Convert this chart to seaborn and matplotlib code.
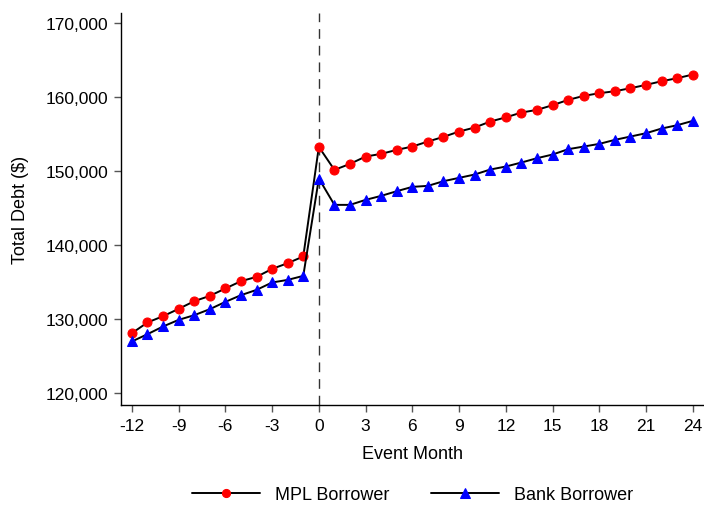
import numpy as np
import pandas as pd
import matplotlib
matplotlib.use("Agg")
import matplotlib.pyplot as plt
import seaborn as sns
from matplotlib.ticker import FuncFormatter

months = list(range(-12, 25))
mpl_debt = [128108, 129554, 130405, 131392, 132433, 133149, 134149, 135135, 135717,
            136798, 137568, 138474,
            153285, 150176, 150991, 151982, 152342, 152882, 153333, 154011, 154641,
            155362, 155902, 156713, 157275, 157928, 158288, 158920, 159640, 160180,
            160541, 160811, 161217, 161667, 162163, 162569, 163064]
bank_debt = [126987, 127973, 129014, 129906, 130541, 131352, 132338, 133244, 133960,
             134960, 135311, 135852,
             149009, 145450, 145450, 146126, 146666, 147298, 147883, 148018, 148650,
             149100, 149551, 150226, 150632, 151172, 151758, 152253, 152974, 153333,
             153694, 154235, 154685, 155136, 155767, 156218, 156803]
series_names = ["MPL Borrower", "Bank Borrower"]
x_ticks = list(range(-12, 25, 3))
y_ticks = [120000, 130000, 140000, 150000, 160000, 170000]

sns.set_theme(style="white")
plt.rcParams['font.family'] = ['Liberation Sans', 'DejaVu Sans']
plt.rcParams['text.color'] = 'black'
plt.rcParams['axes.labelcolor'] = 'black'

df_mpl = pd.DataFrame({"month": months, "debt": mpl_debt})
df_bank = pd.DataFrame({"month": months, "debt": bank_debt})

fig = plt.figure(figsize=(7.04, 5.06), dpi=100)
ax = fig.add_axes([0.1714, 0.1976, 0.8286, 0.775])

ax.axvline(0, color="#333333", lw=1.0, ls=(0, (7, 5)), zorder=1)

sns.lineplot(data=df_mpl, x="month", y="debt", ax=ax, color="black", lw=1.4,
             marker="o", markersize=6.5, markerfacecolor="red",
             markeredgecolor="red", label=series_names[0], zorder=3)
sns.lineplot(data=df_bank, x="month", y="debt", ax=ax, color="black", lw=1.4,
             marker="^", markersize=7.5, markerfacecolor="blue",
             markeredgecolor="blue", label=series_names[1], zorder=3)

ax.set_xlim(-12.72, 24.72)
ax.set_ylim(118400, 171400)
ax.set_xticks(x_ticks)
ax.set_xticklabels([str(t) for t in x_ticks])
ax.set_yticks(y_ticks)
ax.yaxis.set_major_formatter(FuncFormatter(lambda v, p: f"{int(v):,}"))

for s in ["top", "right"]:
    ax.spines[s].set_visible(False)
for s in ["left", "bottom"]:
    ax.spines[s].set_color("black")
    ax.spines[s].set_linewidth(1.0)

ax.tick_params(axis="both", which="major", direction="out", length=5, width=1,
               color="#555555", labelsize=12.5, labelcolor="black", pad=4,
               left=True, bottom=True)

ax.set_xlabel("Event Month", fontsize=13, color="black", labelpad=9)
ax.set_ylabel("Total Debt ($)", fontsize=13, color="black", labelpad=12)

leg = ax.legend(loc="center", bbox_to_anchor=(0.5, -0.228), ncol=2, frameon=False,
                fontsize=13, handlelength=3.8, columnspacing=2.3, handletextpad=0.8,
                markerscale=0.9)
for t in leg.get_texts():
    t.set_color("black")

fig.savefig("out.png", dpi=100)
